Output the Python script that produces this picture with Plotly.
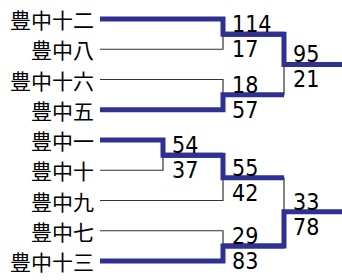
import plotly.graph_objects as go

# ---- data ----
teams = ["豊中十二", "豊中八", "豊中十六", "豊中五", "豊中一",
         "豊中十", "豊中九", "豊中七", "豊中十三"]
match_ids = ["A", "B", "C", "D", "E", "F", "G"]
match_round = [2, 2, 1, 2, 2, 3, 3]
match_top = ["t0", "t2", "t4", "mC", "t7", "mA", "mD"]
match_bottom = ["t1", "t3", "t5", "t6", "t8", "mB", "mE"]
top_scores = [114, 18, 54, 55, 29, 95, 33]
bottom_scores = [17, 57, 37, 42, 83, 21, 78]

# ---- layout constants ----
W, H = 342, 280
ROW0, ROWSTEP = 19, 30.25
LABEL_X = 96
LINE_X0 = 100
ROUND_X = {1: 163, 2: 223, 3: 284}
EDGE_X = 350
NAVY = "#2e3192"
THIN = "#333333"
THICK_W = 5
THIN_W = 1.2
CJK = "Noto Sans CJK JP"
NUMF = "DejaVu Sans Condensed, DejaVu Sans"
NUM_SIZE = 23

midx = {m: i for i, m in enumerate(match_ids)}


def node_y(node):
    if node[0] == "t":
        return ROW0 + ROWSTEP * int(node[1:])
    i = midx[node[1:]]
    return (node_y(match_top[i]) + node_y(match_bottom[i])) / 2


def node_x(node):
    if node[0] == "t":
        return LINE_X0
    return ROUND_X[match_round[midx[node[1:]]]]


parent_x = {}
for i, m in enumerate(match_ids):
    for c in (match_top[i], match_bottom[i]):
        if c[0] == "m":
            parent_x[c[1:]] = ROUND_X[match_round[i]]

fig = go.Figure()
thin_segs = []
thick_segs = []
annotations = []

for i, m in enumerate(match_ids):
    mx = ROUND_X[match_round[i]]
    my = node_y("m" + m)
    top, bot = match_top[i], match_bottom[i]
    ts, bs = top_scores[i], bottom_scores[i]
    win, lose = (top, bot) if ts > bs else (bot, top)
    out_end = parent_x.get(m, EDGE_X)
    wy, ly = node_y(win), node_y(lose)
    thin_segs.append(([node_x(lose), mx, mx], [ly, ly, my]))
    thick_segs.append(([node_x(win), mx, mx, out_end], [wy, wy, my, my]))
    annotations.append(dict(x=mx + 7, y=my + 5, text=str(ts), xanchor="left",
                            yanchor="bottom", showarrow=False,
                            font=dict(family=NUMF, size=NUM_SIZE, color="black")))
    annotations.append(dict(x=mx + 7, y=my, text=str(bs), xanchor="left",
                            yanchor="top", showarrow=False,
                            font=dict(family=NUMF, size=NUM_SIZE, color="black")))

for xs, ys in thin_segs:
    fig.add_trace(go.Scatter(x=xs, y=ys, mode="lines", hoverinfo="skip",
                             line=dict(color=THIN, width=THIN_W)))
for xs, ys in thick_segs:
    fig.add_trace(go.Scatter(x=xs, y=ys, mode="lines", hoverinfo="skip",
                             line=dict(color=NAVY, width=THICK_W)))

for k, t in enumerate(teams):
    annotations.append(dict(x=LABEL_X, y=node_y("t%d" % k), text=t,
                            xanchor="right", yanchor="middle", showarrow=False,
                            font=dict(family=CJK, size=21, color="black")))

fig.update_layout(
    width=W, height=H, margin=dict(l=0, r=0, t=0, b=0),
    paper_bgcolor="white", plot_bgcolor="white", showlegend=False,
    xaxis=dict(range=[0, W], visible=False, fixedrange=True),
    yaxis=dict(range=[H, 0], visible=False, fixedrange=True),
    annotations=annotations,
)
fig.write_html("out.html", config={"displayModeBar": False},
               post_script="document.body.style.margin='0';")
